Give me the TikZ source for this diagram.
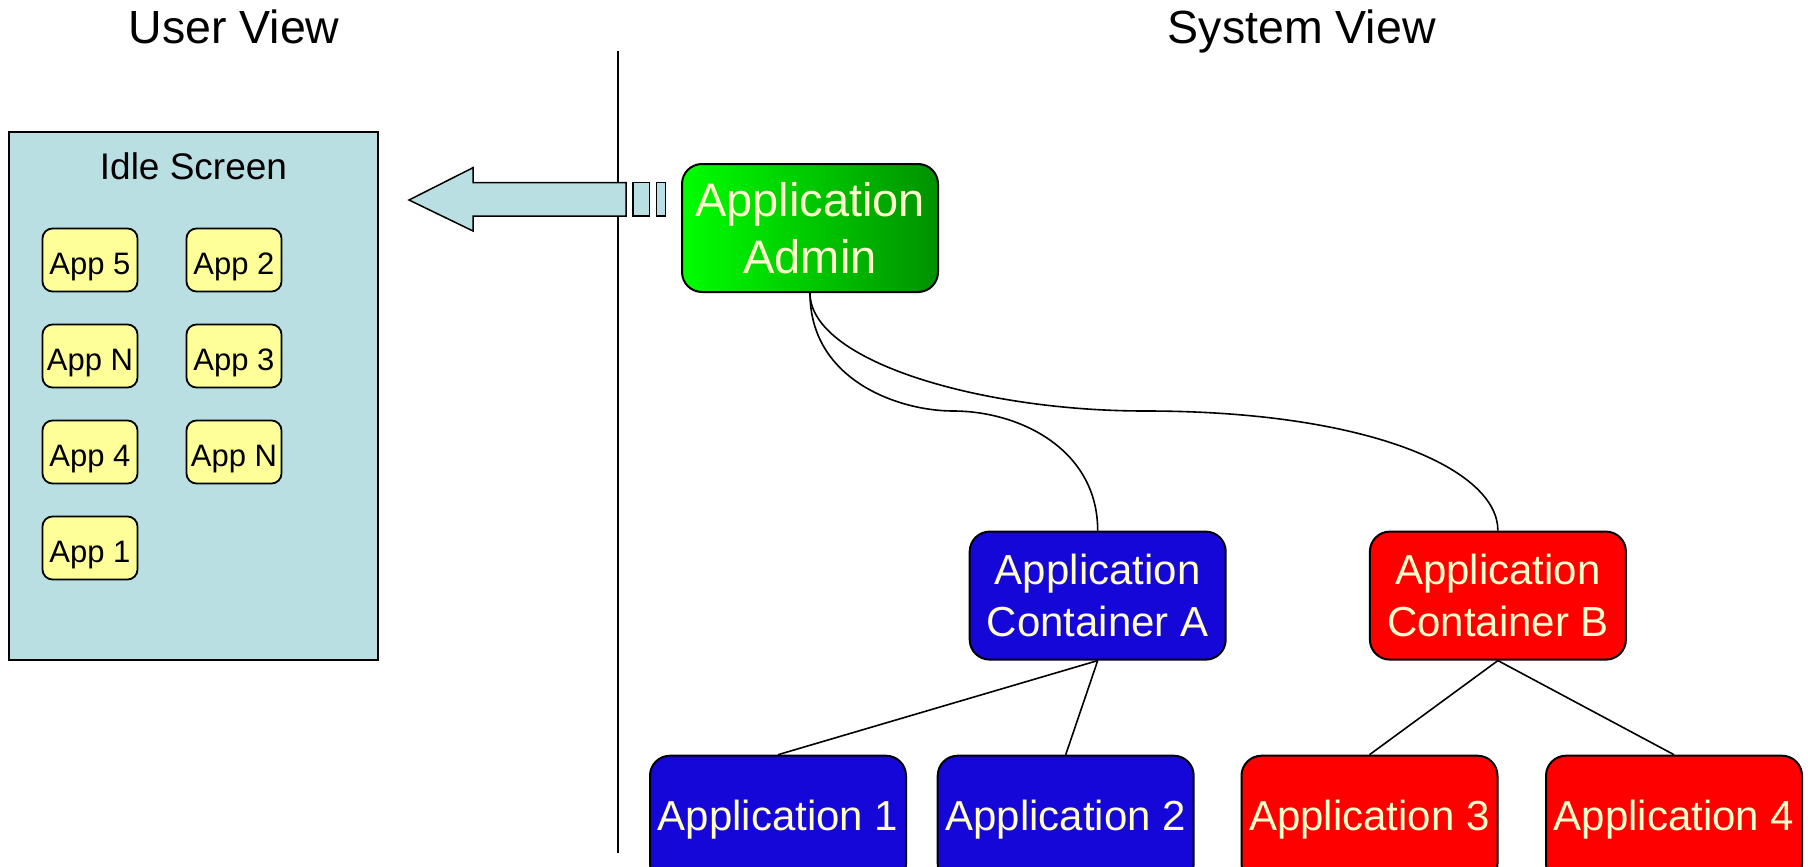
\documentclass[tikz,border=0pt]{standalone}
\usepackage{fontspec}
\setmainfont{Liberation Sans}
\definecolor{idlefill}{RGB}{185,223,227}
\definecolor{appyellow}{RGB}{255,255,153}
\definecolor{labelyellow}{RGB}{255,255,204}
\definecolor{contblue}{RGB}{21,7,216}
\definecolor{contred}{RGB}{255,0,0}
\definecolor{greenleft}{RGB}{0,255,0}
\definecolor{greenright}{RGB}{0,146,0}
\tikzset{
  bigbox/.style={draw=black, line width=2pt, rounded corners=20pt,
    minimum width=256pt, minimum height=128pt, inner sep=0pt,
    text=labelyellow, align=center, font=\fontsize{42}{51.7}\selectfont},
  appbox/.style={draw=black, line width=1.8pt, rounded corners=10pt,
    fill=appyellow, minimum width=95pt, minimum height=63pt, inner sep=0pt,
    text height=28pt, text depth=0pt, font=\fontsize{31}{37}\selectfont},
  title/.style={anchor=base, font=\fontsize{46.5}{56}\selectfont},
  conn/.style={line width=1.6pt},
  flow/.style={draw=black, line width=1.5pt, fill=idlefill, line join=miter}
}
\begin{document}
\begin{tikzpicture}[x={(1pt,0)}, y={(0,-1pt)}]
\useasboundingbox (0,0) rectangle (1808,867);
\clip (0,0) rectangle (1808,867);

% column titles
\node[title] (uv) at (234,43.3) {User View};
\node[title] (sv) at (1301.7,43.3) {System View};

% divider between the two views
\draw[line width=2pt] (618,50.7) -- (618,852.7);

% idle screen with its application icons
\node[draw=black, line width=2pt, fill=idlefill, minimum width=369pt,
      minimum height=528pt, inner sep=0pt] (idle) at (193.7,395.5) {};
\node[anchor=base, font=\fontsize{37}{44}\selectfont] (idlelbl) at (193.5,179.6) {Idle Screen};

\node[appbox] (i5)  at (90,260)   {App 5};
\node[appbox] (iNa) at (90,356)   {App N};
\node[appbox] (i4)  at (90,452)   {App 4};
\node[appbox] (i1)  at (90,548)   {App 1};
\node[appbox] (i2)  at (234,260)  {App 2};
\node[appbox] (i3)  at (234,356)  {App 3};
\node[appbox] (iNb) at (234,452)  {App N};

% block arrow pointing to the idle screen
\draw[flow] (409,200) -- (473,167.7) -- (473,182.7) -- (626,182.7)
  -- (626,216) -- (473,216) -- (473,231) -- cycle;
\draw[flow] (633,182.7) rectangle (649.3,216);
\draw[flow] (656.4,182.7) rectangle (665.4,216);

% application hierarchy
\node[bigbox, left color=greenleft, right color=greenright,
      font=\fontsize{47}{57}\selectfont] (admin) at (810,228) {Application\\Admin};
\node[bigbox, fill=contblue] (ca) at (1097.7,595.6) {Application\\Container A};
\node[bigbox, fill=contred]  (cb) at (1497.9,595.6) {Application\\Container B};

\node[bigbox, fill=contblue] (a1) at (778,819.7)    {Application 1};
\node[bigbox, fill=contblue] (a2) at (1065.7,819.7) {Application 2};
\node[bigbox, fill=contred]  (a3) at (1369.5,819.7) {Application 3};
\node[bigbox, fill=contred]  (a4) at (1674,819.7)   {Application 4};

% curved links from the admin to the containers
\coordinate (ma) at (953,411);
\coordinate (mb) at (1145,411);
\draw[conn] (admin.south) .. controls +(0,88) and +(-53,0) .. (ma)
  .. controls +(67,0) and +(0,-81) .. (ca.north);
\draw[conn] (admin.south) .. controls +(0,68) and +(-165,0) .. (mb)
  .. controls +(225,0) and +(0,-61) .. (cb.north);

% straight links from the containers to their applications
\draw[conn] (ca.south) -- (a1.north);
\draw[conn] (ca.south) -- (a2.north);
\draw[conn] (cb.south) -- (a3.north);
\draw[conn] (cb.south) -- (a4.north);
\end{tikzpicture}
\end{document}
